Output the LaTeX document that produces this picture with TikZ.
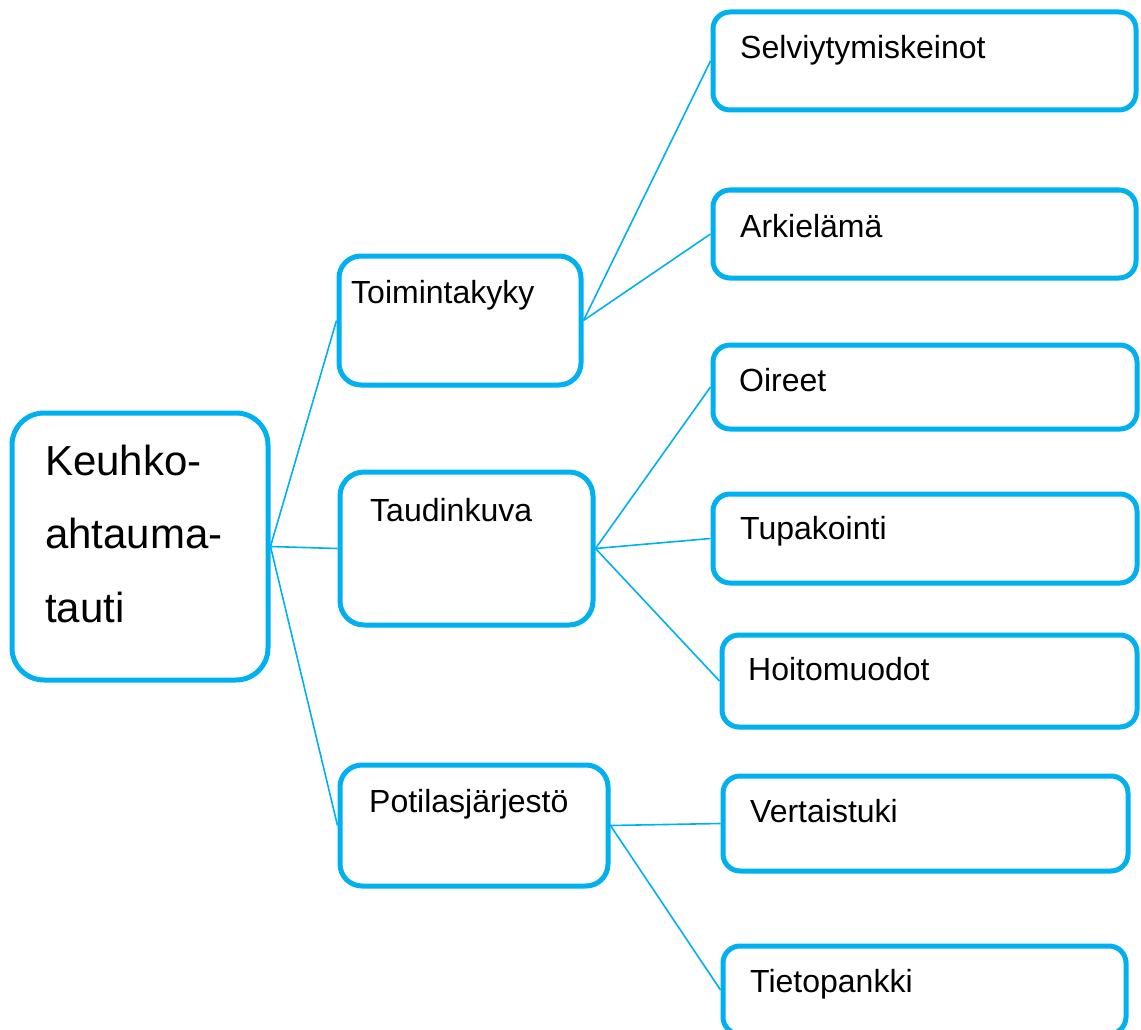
\documentclass[tikz,border=0pt]{standalone}
\usepackage{fontspec}
\setmainfont{Liberation Sans}
\definecolor{mapblue}{RGB}{0,176,240}
\begin{document}
\begin{tikzpicture}[x=1pt,y=-1pt,
  box/.style={draw=mapblue, line width=5pt, fill=white, inner sep=0pt, rectangle},
  conn/.style={draw=mapblue, line width=1.6pt},
  small/.style={anchor=base west, inner sep=0pt, font=\fontsize{32}{38}\selectfont},
  big/.style={anchor=base west, inner sep=0pt, font=\fontsize{42}{50}\selectfont}]
\useasboundingbox (0,0) rectangle (1141,1030);
% boxes
\node[box, rounded corners=32pt, minimum width=256pt, minimum height=267pt] (root) at (140,546.5) {};
\node[box, rounded corners=22pt, minimum width=242pt, minimum height=129pt] (toim) at (460,320.5) {};
\node[box, rounded corners=24pt, minimum width=253pt, minimum height=153pt] (taud) at (466.5,548.5) {};
\node[box, rounded corners=22pt, minimum width=268pt, minimum height=121pt] (poti) at (474,825.5) {};
\node[box, rounded corners=17pt, minimum width=423pt, minimum height=98pt] (selv) at (924.5,61) {};
\node[box, rounded corners=17pt, minimum width=423pt, minimum height=88pt] (arki) at (924.5,234) {};
\node[box, rounded corners=17pt, minimum width=424pt, minimum height=84pt] (oire) at (925,387) {};
\node[box, rounded corners=17pt, minimum width=424pt, minimum height=89pt] (tupa) at (925,538.5) {};
\node[box, rounded corners=17pt, minimum width=415pt, minimum height=92pt] (hoit) at (929.5,681) {};
\node[box, rounded corners=17pt, minimum width=405pt, minimum height=95pt] (vert) at (925.5,823.5) {};
\node[box, rounded corners=17pt, minimum width=403pt, minimum height=88pt] (tiet) at (924.5,990) {};
% texts
\node[big] (t1) at (45,475) {Keuhko-};
\node[big] (t2) at (45,548) {ahtauma-};
\node[big] (t3) at (45,622) {tauti};
\node[small] (ttoim) at (351,303) {Toimintakyky};
\node[small] (ttaud) at (370,521) {Taudinkuva};
\node[small] (tpoti) at (369,812) {Potilasjärjestö};
\node[small] (tselv) at (740,59) {Selviytymiskeinot};
\node[small] (tarki) at (740,237) {Arkielämä};
\node[small] (toire) at (739,391) {Oireet};
\node[small] (ttupa) at (740,539) {Tupakointi};
\node[small] (thoit) at (748,680) {Hoitomuodot};
\node[small] (tvert) at (750,822) {Vertaistuki};
\node[small] (ttiet) at (750,992) {Tietopankki};
% connectors
\draw[conn] (root.east) -- (toim.west);
\draw[conn] (root.east) -- (taud.west);
\draw[conn] (root.east) -- (poti.west);
\draw[conn] (toim.east) -- (selv.west);
\draw[conn] (toim.east) -- (arki.west);
\draw[conn] (taud.east) -- (oire.west);
\draw[conn] (taud.east) -- (tupa.west);
\draw[conn] (taud.east) -- (hoit.west);
\draw[conn] (poti.east) -- (vert.west);
\draw[conn] (poti.east) -- (tiet.west);
\end{tikzpicture}
\end{document}
